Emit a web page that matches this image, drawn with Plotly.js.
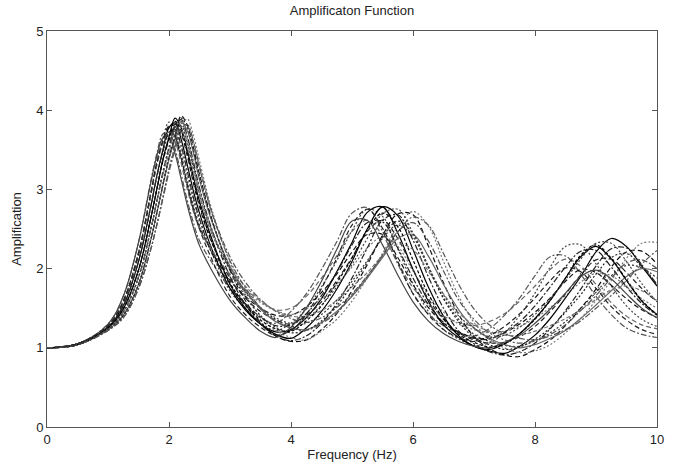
<!DOCTYPE html>
<html>
<head>
<meta charset="utf-8">
<script src="https://cdn.plot.ly/plotly-3.0.1.min.js"></script>
<style>html,body{margin:0;padding:0;background:#fff;}#chart{width:679px;height:466px;}</style>
</head>
<body>
<div id="chart"></div>
<script>
// Frequency grid (Hz) shared by all curves
const freq = [0,0.5,1.0,1.25,1.5,1.7,1.8,1.9,2.0,2.1,2.2,2.3,2.4,2.5,2.7,3.0,3.25,3.5,3.75,4.0,4.25,4.5,4.75,5.0,5.25,5.5,5.75,6.0,6.25,6.5,6.75,7.0,7.25,7.5,7.75,8.0,8.25,8.5,8.75,9.0,9.25,9.5,9.75,10.0];

// Amplification curves
const amp01 = [1.00,1.05,1.30,1.65,2.33,3.10,3.45,3.70,3.72,3.51,3.19,2.86,2.58,2.35,2.08,1.75,1.55,1.38,1.31,1.46,1.68,1.99,2.34,2.70,2.77,2.47,2.06,1.69,1.43,1.28,1.19,1.15,1.24,1.41,1.63,1.91,2.15,2.16,1.93,1.65,1.42,1.25,1.17,1.13];
const amp02 = [1.00,1.05,1.28,1.59,2.20,2.95,3.35,3.65,3.85,3.73,3.45,3.11,2.80,2.55,2.20,1.72,1.50,1.32,1.22,1.31,1.49,1.77,2.10,2.48,2.75,2.66,2.25,1.81,1.46,1.23,1.11,1.03,1.06,1.19,1.41,1.69,2.02,2.28,2.30,2.06,1.78,1.53,1.36,1.27];
const amp03 = [1.00,1.05,1.27,1.57,2.17,2.92,3.32,3.60,3.78,3.66,3.38,3.05,2.75,2.52,2.22,1.85,1.65,1.50,1.41,1.41,1.52,1.70,1.93,2.21,2.43,2.43,2.14,1.80,1.51,1.31,1.20,1.13,1.12,1.19,1.30,1.45,1.63,1.84,1.99,1.95,1.79,1.62,1.48,1.38];
const amp04 = [1.00,1.05,1.26,1.53,2.09,2.78,3.17,3.50,3.78,3.84,3.63,3.31,2.98,2.70,2.25,1.75,1.48,1.30,1.20,1.23,1.38,1.62,1.96,2.33,2.71,2.78,2.45,1.99,1.59,1.29,1.13,1.02,0.98,1.05,1.18,1.37,1.60,1.88,2.15,2.28,2.12,1.85,1.59,1.42];
const amp05 = [1.00,1.05,1.26,1.53,2.09,2.78,3.15,3.46,3.68,3.70,3.49,3.17,2.86,2.61,2.25,1.90,1.72,1.57,1.47,1.42,1.49,1.62,1.80,2.02,2.26,2.40,2.28,1.97,1.67,1.45,1.30,1.23,1.19,1.21,1.27,1.37,1.51,1.66,1.83,1.94,1.91,1.77,1.62,1.50];
const amp06 = [1.00,1.04,1.25,1.49,1.98,2.63,3.00,3.38,3.66,3.90,3.78,3.50,3.16,2.85,2.38,1.80,1.50,1.30,1.17,1.12,1.25,1.46,1.74,2.09,2.50,2.78,2.67,2.24,1.77,1.40,1.15,1.02,0.96,0.93,1.02,1.16,1.37,1.63,1.90,2.21,2.38,2.28,2.03,1.78];
const amp07 = [1.00,1.04,1.25,1.49,1.98,2.63,3.00,3.36,3.62,3.82,3.70,3.42,3.08,2.78,2.33,1.88,1.63,1.46,1.35,1.30,1.41,1.58,1.85,2.14,2.47,2.61,2.38,1.99,1.62,1.36,1.19,1.10,1.06,1.07,1.14,1.27,1.46,1.68,1.92,2.11,2.12,1.95,1.75,1.58];
const amp08 = [1.00,1.04,1.24,1.45,1.89,2.49,2.85,3.22,3.53,3.80,3.88,3.67,3.35,3.02,2.50,1.90,1.55,1.30,1.15,1.09,1.15,1.31,1.56,1.88,2.26,2.61,2.68,2.36,1.90,1.50,1.21,1.05,0.95,0.91,0.95,1.06,1.24,1.47,1.74,2.03,2.25,2.26,2.05,1.80];
const amp09 = [1.00,1.04,1.24,1.45,1.89,2.49,2.85,3.20,3.50,3.74,3.80,3.59,3.27,2.94,2.45,1.98,1.70,1.50,1.36,1.27,1.31,1.42,1.60,1.84,2.10,2.38,2.55,2.40,2.01,1.63,1.36,1.17,1.08,1.03,1.02,1.09,1.19,1.33,1.50,1.70,1.91,2.04,2.01,1.88];
const amp10 = [1.00,1.04,1.23,1.41,1.80,2.36,2.70,3.06,3.40,3.67,3.93,3.81,3.53,3.19,2.63,1.98,1.60,1.32,1.15,1.08,1.10,1.23,1.43,1.72,2.05,2.42,2.69,2.68,2.29,1.82,1.42,1.14,0.99,0.91,0.89,0.98,1.10,1.28,1.50,1.74,2.02,2.21,2.22,2.06];
const amp11 = [1.00,1.04,1.23,1.41,1.80,2.36,2.70,3.05,3.38,3.64,3.86,3.74,3.46,3.12,2.60,2.03,1.72,1.49,1.33,1.25,1.23,1.32,1.46,1.65,1.88,2.14,2.38,2.43,2.16,1.80,1.48,1.25,1.12,1.04,1.00,1.04,1.12,1.22,1.37,1.54,1.72,1.90,2.00,1.96];
const amp12 = [1.00,1.04,1.22,1.38,1.75,2.24,2.55,2.90,3.26,3.55,3.80,3.89,3.68,3.36,2.75,2.08,1.68,1.40,1.22,1.13,1.10,1.21,1.36,1.59,1.88,2.19,2.53,2.72,2.54,2.09,1.65,1.32,1.11,1.00,0.94,0.96,1.04,1.19,1.37,1.60,1.85,2.13,2.32,2.33];
const amp13 = [1.00,1.04,1.22,1.38,1.75,2.24,2.55,2.88,3.22,3.50,3.72,3.79,3.58,3.27,2.72,2.15,1.83,1.61,1.46,1.37,1.32,1.38,1.51,1.68,1.91,2.16,2.46,2.65,2.55,2.19,1.80,1.49,1.29,1.18,1.12,1.10,1.15,1.23,1.34,1.50,1.66,1.85,2.06,2.23];
const amp14 = [1.00,1.05,1.28,1.59,2.20,2.93,3.30,3.58,3.72,3.60,3.33,3.00,2.72,2.50,2.23,1.93,1.74,1.59,1.48,1.50,1.65,1.88,2.16,2.47,2.61,2.42,2.08,1.76,1.55,1.40,1.32,1.28,1.33,1.43,1.59,1.78,1.99,2.12,2.03,1.80,1.57,1.40,1.29,1.24];
const amp15 = [1.00,1.05,1.30,1.65,2.33,3.08,3.42,3.65,3.66,3.45,3.13,2.80,2.52,2.29,1.98,1.60,1.38,1.21,1.13,1.26,1.50,1.84,2.24,2.60,2.61,2.30,1.92,1.58,1.34,1.18,1.08,1.02,1.00,1.07,1.16,1.31,1.49,1.69,1.90,1.98,1.87,1.68,1.50,1.38];
const amp16 = [1.00,1.04,1.24,1.45,1.89,2.49,2.84,3.18,3.46,3.70,3.74,3.53,3.22,2.91,2.45,2.02,1.78,1.60,1.47,1.40,1.40,1.47,1.60,1.77,1.95,2.16,2.31,2.24,1.97,1.68,1.44,1.29,1.21,1.16,1.16,1.21,1.28,1.37,1.48,1.61,1.73,1.78,1.72,1.60];
const amp17 = [1.00,1.05,1.26,1.53,2.09,2.78,3.16,3.48,3.72,3.76,3.55,3.23,2.90,2.63,2.20,1.80,1.56,1.39,1.28,1.29,1.43,1.66,1.95,2.30,2.58,2.59,2.26,1.88,1.55,1.32,1.19,1.12,1.11,1.20,1.33,1.53,1.77,2.02,2.22,2.23,2.02,1.77,1.56,1.41];
const amp18 = [1.00,1.04,1.23,1.41,1.80,2.36,2.70,3.06,3.40,3.67,3.90,3.78,3.50,3.16,2.62,2.00,1.65,1.41,1.26,1.19,1.22,1.34,1.53,1.79,2.08,2.40,2.60,2.44,2.03,1.62,1.33,1.13,1.04,0.98,1.01,1.11,1.25,1.45,1.67,1.93,2.14,2.19,2.02,1.80];
const amp19 = [1.00,1.04,1.25,1.49,1.98,2.63,3.00,3.37,3.64,3.86,3.74,3.46,3.12,2.81,2.34,1.82,1.54,1.35,1.24,1.21,1.34,1.53,1.82,2.13,2.49,2.70,2.53,2.11,1.68,1.37,1.17,1.07,1.01,1.05,1.18,1.36,1.60,1.88,2.17,2.30,2.13,1.86,1.60,1.42];
const amp20 = [1.00,1.04,1.22,1.38,1.75,2.24,2.55,2.90,3.25,3.54,3.78,3.82,3.61,3.29,2.71,2.10,1.76,1.51,1.34,1.25,1.22,1.31,1.44,1.66,1.90,2.17,2.47,2.58,2.35,1.97,1.60,1.36,1.19,1.10,1.06,1.09,1.17,1.29,1.47,1.66,1.88,2.07,2.11,2.00];
const amp21 = [1.00,1.05,1.28,1.59,2.20,2.95,3.34,3.62,3.80,3.68,3.40,3.06,2.75,2.50,2.12,1.65,1.42,1.26,1.16,1.22,1.42,1.75,2.13,2.55,2.75,2.51,2.09,1.68,1.42,1.23,1.13,1.08,1.15,1.27,1.43,1.63,1.85,2.01,1.96,1.75,1.52,1.35,1.23,1.17];
const amp22 = [1.00,1.04,1.24,1.45,1.89,2.49,2.85,3.22,3.53,3.78,3.84,3.63,3.31,2.98,2.49,2.00,1.72,1.51,1.38,1.31,1.37,1.54,1.77,2.05,2.38,2.69,2.75,2.45,2.03,1.67,1.40,1.25,1.14,1.16,1.26,1.42,1.62,1.86,2.12,2.32,2.32,2.09,1.81,1.58];

const curves = [amp01,amp02,amp03,amp04,amp05,amp06,amp07,amp08,amp09,amp10,amp11,amp12,amp13,amp14,amp15,amp16,amp17,amp18,amp19,amp20,amp21,amp22];

const xTicks = [0,2,4,6,8,10];
const yTicks = [0,1,2,3,4,5];

// line styles (black / grey, solid / dashed / dotted / dash-dot)
const lineStyles = [
  {color:'#555', dash:'6px,2px,2px,2px'},
  {color:'#444', dash:'2px,2px'},
  {color:'#111', dash:'5px,3px'},
  {color:'#000', dash:'solid'},
  {color:'#777', dash:'2px,2px'},
  {color:'#000', dash:'solid'},
  {color:'#222', dash:'5px,3px'},
  {color:'#222', dash:'6px,2px,2px,2px'},
  {color:'#333', dash:'2px,2px'},
  {color:'#111', dash:'5px,3px'},
  {color:'#666', dash:'solid'},
  {color:'#777', dash:'2px,2px'},
  {color:'#555', dash:'6px,2px,2px,2px'},
  {color:'#666', dash:'5px,3px'},
  {color:'#444', dash:'solid'},
  {color:'#777', dash:'4px,2px'},
  {color:'#222', dash:'6px,2px,2px,2px'},
  {color:'#222', dash:'2px,2px'},
  {color:'#000', dash:'3px,2px'},
  {color:'#555', dash:'6px,2px,2px,2px'},
  {color:'#222', dash:'5px,3px'},
  {color:'#444', dash:'2px,2px'}
];

const traces = curves.map((y, i) => ({
  x: freq, y: y, type: 'scatter', mode: 'lines',
  line: {color: lineStyles[i].color, dash: lineStyles[i].dash, width: 1.2, shape: 'spline', smoothing: 1},
  hoverinfo: 'skip', showlegend: false
}));

const fontFam = 'Liberation Sans, Arial, Helvetica, sans-serif';
const layout = {
  width: 679, height: 466,
  margin: {l: 47, r: 22, t: 31, b: 39},
  paper_bgcolor: '#fff', plot_bgcolor: '#fff',
  font: {family: fontFam, size: 13, color: '#222'},
  title: {text: 'Amplificaton Function', font: {family: fontFam, size: 13, color: '#222'},
          x: 0.5, xref: 'paper', y: 0.978, yref: 'container', yanchor: 'middle'},
  xaxis: {
    range: [0, 10], tickvals: xTicks, ticktext: xTicks.map(String),
    ticks: 'inside', ticklen: 5, tickcolor: '#555', mirror: 'ticks',
    showline: true, linecolor: '#555', linewidth: 1,
    showgrid: false, zeroline: false, fixedrange: true,
    tickfont: {size: 13, color: '#222'},
    title: {text: 'Frequency (Hz)', font: {size: 13, color: '#222'}, standoff: 4}
  },
  yaxis: {
    range: [0, 5], tickvals: yTicks, ticktext: yTicks.map(String),
    ticks: 'inside', ticklen: 5, tickcolor: '#555', mirror: 'ticks',
    showline: true, linecolor: '#555', linewidth: 1,
    showgrid: false, zeroline: false, fixedrange: true,
    tickfont: {size: 13, color: '#222'},
    title: {text: 'Amplification', font: {size: 13, color: '#222'}, standoff: 11}
  }
};

Plotly.newPlot('chart', traces, layout, {staticPlot: true, displayModeBar: false});
</script>
</body>
</html>
